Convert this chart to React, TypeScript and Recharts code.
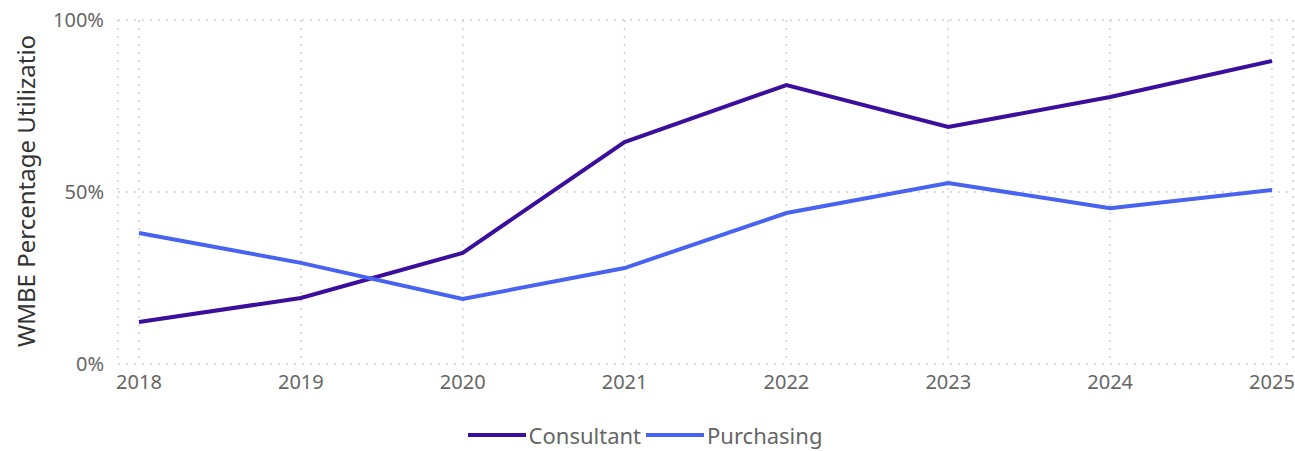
import {
  LineChart,
  Line,
  XAxis,
  YAxis,
  CartesianGrid,
  Legend,
} from "recharts";

const years: string[] = ["2018", "2019", "2020", "2021", "2022", "2023", "2024", "2025"];
const consultant: number[] = [12.2, 19.2, 32.3, 64.5, 81.1, 68.9, 77.6, 88.1];
const purchasing: number[] = [38.1, 29.4, 18.9, 27.9, 43.9, 52.6, 45.3, 50.6];
const yTicks: number[] = [0, 50, 100];

const COLORS = { Consultant: "#3B0E9C", Purchasing: "#4863F0" };
const FONT = "'Noto Sans', 'Open Sans', sans-serif";

const data = years.map((year, i) => ({
  year,
  Consultant: consultant[i],
  Purchasing: purchasing[i],
}));

function LegendBox(props: any) {
  const items = props.payload || [];
  return (
    <div
      style={{
        display: "flex",
        justifyContent: "center",
        alignItems: "center",
        fontFamily: FONT,
        fontSize: 22,
        lineHeight: "30px",
        color: "#666",
      }}
    >
      {items.map((it: any) => (
        <div key={it.value} style={{ display: "flex", alignItems: "center", marginRight: 5 }}>
          <span
            style={{
              display: "inline-block",
              width: 58,
              height: 4,
              background: it.color,
              marginRight: 3,
            }}
          />
          <span>{it.value}</span>
        </div>
      ))}
    </div>
  );
}

function YLabel() {
  return (
    <text
      x={25}
      y={191}
      transform="rotate(-90 25 191)"
      textAnchor="middle"
      dominantBaseline="central"
      fill="#333"
      fontSize={24}
      fontFamily={FONT}
    >
      WMBE Percentage Utilizatio
    </text>
  );
}

export default function App() {
  return (
    <div style={{ position: "absolute", left: 0, top: 0 }}>
      <LineChart
        width={1295}
        height={451}
        data={data}
        margin={{ top: 20, right: 2, bottom: 0, left: 0 }}
      >
        <CartesianGrid stroke="#cfcfcf" strokeDasharray="2 6" strokeWidth={1.5} />
        <XAxis
          dataKey="year"
          axisLine={false}
          tickLine={false}
          height={40}
          tickMargin={5}
          padding={{ left: 21, right: 21 }}
          tick={{ fill: "#666", fontSize: 20, fontFamily: FONT }}
        />
        <YAxis
          domain={[0, 100]}
          ticks={yTicks}
          width={118}
          axisLine={false}
          tickLine={false}
          tickMargin={8}
          tickFormatter={(v: number) => `${v}%`}
          tick={{ fill: "#666", fontSize: 20, fontFamily: FONT }}
          label={<YLabel />}
        />
        <Legend
          verticalAlign="bottom"
          height={47}
          content={<LegendBox />}
          wrapperStyle={{ top: 420, left: 0, width: 1295 }}
        />
        <Line
          type="linear"
          dataKey="Consultant"
          stroke={COLORS.Consultant}
          strokeWidth={4}
          dot={false}
          isAnimationActive={false}
        />
        <Line
          type="linear"
          dataKey="Purchasing"
          stroke={COLORS.Purchasing}
          strokeWidth={4}
          dot={false}
          isAnimationActive={false}
        />
      </LineChart>
    </div>
  );
}
